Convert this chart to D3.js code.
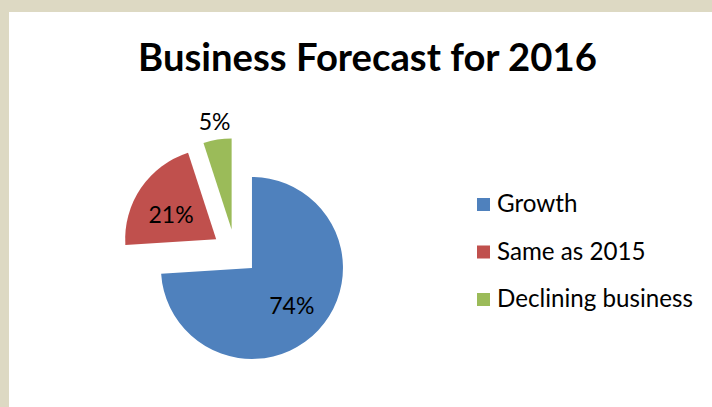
<!DOCTYPE html>
<html>
<head>
<meta charset="utf-8">
<script src="https://cdn.jsdelivr.net/npm/d3@7"></script>
<style>
  html, body { margin: 0; padding: 0; background: #ddd9c3; }
  svg { display: block; }
</style>
</head>
<body>
<svg id="chart" width="712" height="407"></svg>
<script>
// Forecast categories and their shares (percent)
const categories = ["Growth", "Same as 2015", "Declining business"];
const shares = [74, 21, 5];
const colors = ["#4f81bd", "#c0504d", "#9bbb59"];
const title = "Business Forecast for 2016";

const svg = d3.select("#chart");
const W = 712, H = 407;
const font = "Lato, 'Open Sans', 'Liberation Sans', sans-serif";

// chart area on the tan backdrop
svg.append("rect")
  .attr("x", 9).attr("y", 12)
  .attr("width", W - 9).attr("height", H - 12)
  .attr("fill", "#ffffff");

// title, sized to its set width
const t = svg.append("text")
  .attr("x", 367.5).attr("y", 71)
  .attr("text-anchor", "middle")
  .attr("font-family", font)
  .attr("font-weight", "bold")
  .attr("font-size", 33)
  .attr("fill", "#000")
  .text(title);
const tw = t.node().getComputedTextLength();
t.attr("font-size", 33 * 459 / tw);

// pie
const radius = 91;
const explode = 23;
const cx = 235.2, cy = 252.2;

const pie = d3.pie().sort(null).value(d => d.v);
const arcs = pie(shares.map((v, i) => ({ v, name: categories[i], color: colors[i] })));
const arc = d3.arc().innerRadius(0).outerRadius(radius);

const g = svg.append("g").attr("transform", `translate(${cx},${cy})`);

function offset(d, k) {
  const a = (d.startAngle + d.endAngle) / 2;
  return [Math.sin(a) * k, -Math.cos(a) * k];
}

const slices = g.selectAll("g.slice")
  .data(arcs)
  .join("g")
  .attr("class", "slice")
  .attr("transform", d => {
    const [dx, dy] = offset(d, explode);
    return `translate(${dx},${dy})`;
  });

slices.append("path")
  .attr("d", arc)
  .attr("fill", d => d.data.color);

// percentage labels: inside for the large slices, outside for the small one
slices.append("text")
  .attr("transform", d => {
    const k = d.data.v < 10 ? radius * 1.2 : radius * 0.6;
    const [x, y] = offset(d, k);
    return `translate(${x},${y + (d.data.v > 10 && d.data.v < 50 ? 6 : 0)})`;
  })
  .attr("text-anchor", "middle")
  .attr("dy", "0.36em")
  .attr("font-family", font)
  .attr("font-size", 23)
  .attr("fill", "#000")
  .text(d => d.data.v + "%");

// legend
const legend = svg.append("g").attr("transform", "translate(477,198)");
const item = legend.selectAll("g")
  .data(categories)
  .join("g")
  .attr("transform", (d, i) => `translate(0,${i * 47.5})`);
item.append("rect")
  .attr("width", 13).attr("height", 13)
  .attr("fill", (d, i) => colors[i]);
const labels = item.append("text")
  .attr("x", 20).attr("y", 14)
  .attr("font-family", font)
  .attr("font-size", 21)
  .attr("fill", "#000")
  .text(d => d);
// size legend text so the longest entry spans its set width
const longest = d3.max(labels.nodes(), n => n.getComputedTextLength());
labels.attr("font-size", 21 * 196 / longest);
</script>
</body>
</html>
